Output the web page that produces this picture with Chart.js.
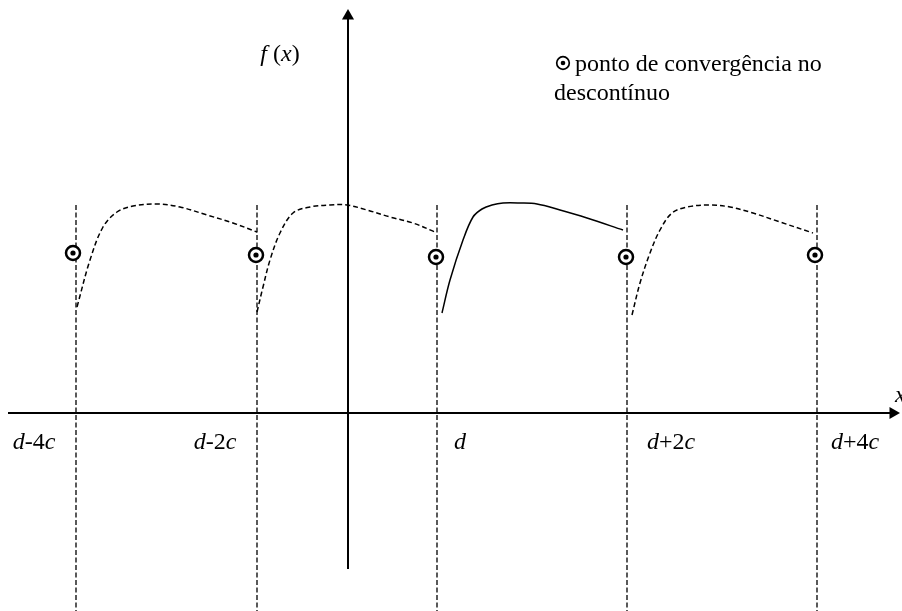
<!doctype html>
<html lang="pt">
  <head>
    <meta charset="utf-8">
    <title>Convergência no descontínuo</title>
    <style>
      html, body { margin: 0; padding: 0; background: #fff; }
      .wrap { width: 902px; height: 611px; position: relative; }
    </style>
  </head>
  <body>
    <div class="wrap">
      <canvas id="serie"></canvas>
    </div>

    <script src="https://cdn.jsdelivr.net/npm/chart.js/dist/chart.umd.min.js"></script>
    <script>
      // discontinuities (vertical dashed lines) and where they run
      const jumpX = [-2.72, -0.91, 0.89, 2.79, 4.69];
      const jumpTop = 2.08;
      const jumpBottom = -1.98;

      // convergence points at each jump
      const convX = [-2.75, -0.92, 0.88, 2.78, 4.67];
      const convY = [1.60, 1.58, 1.56, 1.56, 1.58];

      // one period of f(x), repeated; seg3 is the original (solid)
      const seg1X = [-2.71, -2.58, -2.45, -2.31, -2.15, -1.91, -1.68, -1.41, -1.15, -0.91];
      const seg1Y = [1.06, 1.53, 1.86, 2.01, 2.07, 2.09, 2.06, 1.98, 1.90, 1.81];
      const seg2X = [-0.91, -0.85, -0.78, -0.68, -0.55, -0.38, -0.18, -0.01, 0.19, 0.42, 0.65, 0.87];
      const seg2Y = [1.01, 1.26, 1.53, 1.80, 2.00, 2.06, 2.08, 2.08, 2.03, 1.96, 1.90, 1.81];
      const seg3X = [0.94, 1.02, 1.15, 1.25, 1.34, 1.44, 1.55, 1.72, 1.89, 2.12, 2.39, 2.75];
      const seg3Y = [1.00, 1.33, 1.73, 1.96, 2.04, 2.08, 2.10, 2.10, 2.09, 2.03, 1.95, 1.83];
      const seg4X = [2.84, 2.92, 3.02, 3.12, 3.24, 3.39, 3.62, 3.82, 4.05, 4.32, 4.65];
      const seg4Y = [0.98, 1.30, 1.60, 1.83, 2.00, 2.06, 2.08, 2.06, 2.00, 1.91, 1.80];

      // labels under the x axis
      const tickLabels = ['d-4c', 'd-2c', 'd', 'd+2c', 'd+4c'];
      const tickX = [-3.14, -1.33, 1.12, 3.23, 5.07];
      const tickY = -0.36;

      // axes extents
      const xAxisFrom = -3.40, xAxisTo = 5.45;
      const yAxisFrom = -1.56, yAxisTo = 3.97;

      const ink = '#000';
      const pts = (xs, ys) => xs.map((x, i) => ({ x: x, y: ys[i] }));

      function curve(xs, ys, dashed) {
        return {
          type: 'line',
          data: pts(xs, ys),
          borderColor: ink,
          borderWidth: 1.5,
          borderDash: dashed ? [5, 3] : [],
          pointRadius: 0,
          tension: 0.35,
          fill: false,
          order: 5
        };
      }

      const datasets = [];

      // axes
      datasets.push({
        type: 'line',
        data: [{ x: xAxisFrom, y: 0 }, { x: xAxisTo, y: 0 }],
        borderColor: ink, borderWidth: 2, pointRadius: 0, order: 6
      });
      datasets.push({
        type: 'line',
        data: [{ x: 0, y: yAxisFrom }, { x: 0, y: yAxisTo }],
        borderColor: ink, borderWidth: 2, pointRadius: 0, order: 6
      });
      // arrow heads
      datasets.push({
        type: 'scatter',
        data: [{ x: 0, y: yAxisTo }, { x: xAxisTo, y: 0 }],
        pointStyle: 'triangle',
        pointRotation: [0, 90],
        pointRadius: 7,
        backgroundColor: ink,
        borderColor: ink,
        borderWidth: 0,
        clip: false,
        order: 4
      });

      // vertical dashed lines at the jumps
      jumpX.forEach(x => {
        datasets.push({
          type: 'line',
          data: [{ x: x, y: jumpTop }, { x: x, y: jumpBottom }],
          borderColor: ink, borderWidth: 1.3, borderDash: [5, 2.5],
          pointRadius: 0, order: 7
        });
      });

      datasets.push(curve(seg1X, seg1Y, true));
      datasets.push(curve(seg2X, seg2Y, true));
      datasets.push(curve(seg3X, seg3Y, false));
      datasets.push(curve(seg4X, seg4Y, true));

      // rings and dots of the convergence markers
      datasets.push({
        type: 'scatter',
        data: pts(convX, convY),
        pointStyle: 'circle',
        pointRadius: 7,
        borderWidth: 2.5,
        borderColor: ink,
        backgroundColor: '#fff',
        order: 1
      });
      datasets.push({
        type: 'scatter',
        data: pts(convX, convY),
        pointStyle: 'circle',
        pointRadius: 2.6,
        borderWidth: 0,
        backgroundColor: ink,
        order: 0
      });

      // letters in italic, digits and signs upright
      function drawMath(ctx, text, cx, baseline, size, align) {
        const it = 'italic ' + size + 'px "Liberation Serif", "Times New Roman", serif';
        const rm = size + 'px "Liberation Serif", "Times New Roman", serif';
        const parts = [...text].map(ch => ({ ch: ch, font: /[a-z]/.test(ch) ? it : rm }));
        let total = 0;
        parts.forEach(p => { ctx.font = p.font; p.w = ctx.measureText(p.ch).width; total += p.w; });
        let x = align === 'left' ? cx : cx - total / 2;
        ctx.textAlign = 'left';
        ctx.textBaseline = 'alphabetic';
        parts.forEach(p => { ctx.font = p.font; ctx.fillText(p.ch, x, baseline); x += p.w; });
      }

      const textPlugin = {
        id: 'texts',
        afterDatasetsDraw(chart) {
          const ctx = chart.ctx;
          const sx = chart.scales.x, sy = chart.scales.y;
          ctx.save();
          ctx.fillStyle = ink;

          tickLabels.forEach((t, i) => {
            drawMath(ctx, t, sx.getPixelForValue(tickX[i]), sy.getPixelForValue(tickY), 24);
          });
          drawMath(ctx, 'f (x)', sx.getPixelForValue(-0.68), sy.getPixelForValue(3.52), 24);
          drawMath(ctx, 'x', sx.getPixelForValue(5.47), sy.getPixelForValue(0.11), 24, 'left');

          // legend
          const lx = sx.getPixelForValue(2.15), ly = sy.getPixelForValue(3.50);
          ctx.strokeStyle = ink;
          ctx.lineWidth = 1.7;
          ctx.beginPath();
          ctx.arc(lx, ly, 6.3, 0, Math.PI * 2);
          ctx.stroke();
          ctx.beginPath();
          ctx.arc(lx, ly, 2.3, 0, Math.PI * 2);
          ctx.fill();
          ctx.font = '24px "Liberation Serif", "Times New Roman", serif';
          ctx.textAlign = 'left';
          ctx.textBaseline = 'alphabetic';
          ctx.fillText('ponto de convergência no', lx + 12, ly + 8);
          ctx.fillText('descontínuo', lx - 9, ly + 37);
          ctx.restore();
        }
      };

      new Chart(document.getElementById('serie'), {
        type: 'scatter',
        data: { datasets: datasets },
        options: {
          responsive: true,
          maintainAspectRatio: false,
          animation: false,
          events: [],
          layout: { padding: 0, autoPadding: false },
          plugins: {
            legend: { display: false },
            tooltip: { enabled: false }
          },
          scales: {
            x: { type: 'linear', min: -3.48, max: 5.54, display: false },
            y: { type: 'linear', min: -1.98, max: 4.13, display: false }
          }
        },
        plugins: [textPlugin]
      });
    </script>
  </body>
</html>
